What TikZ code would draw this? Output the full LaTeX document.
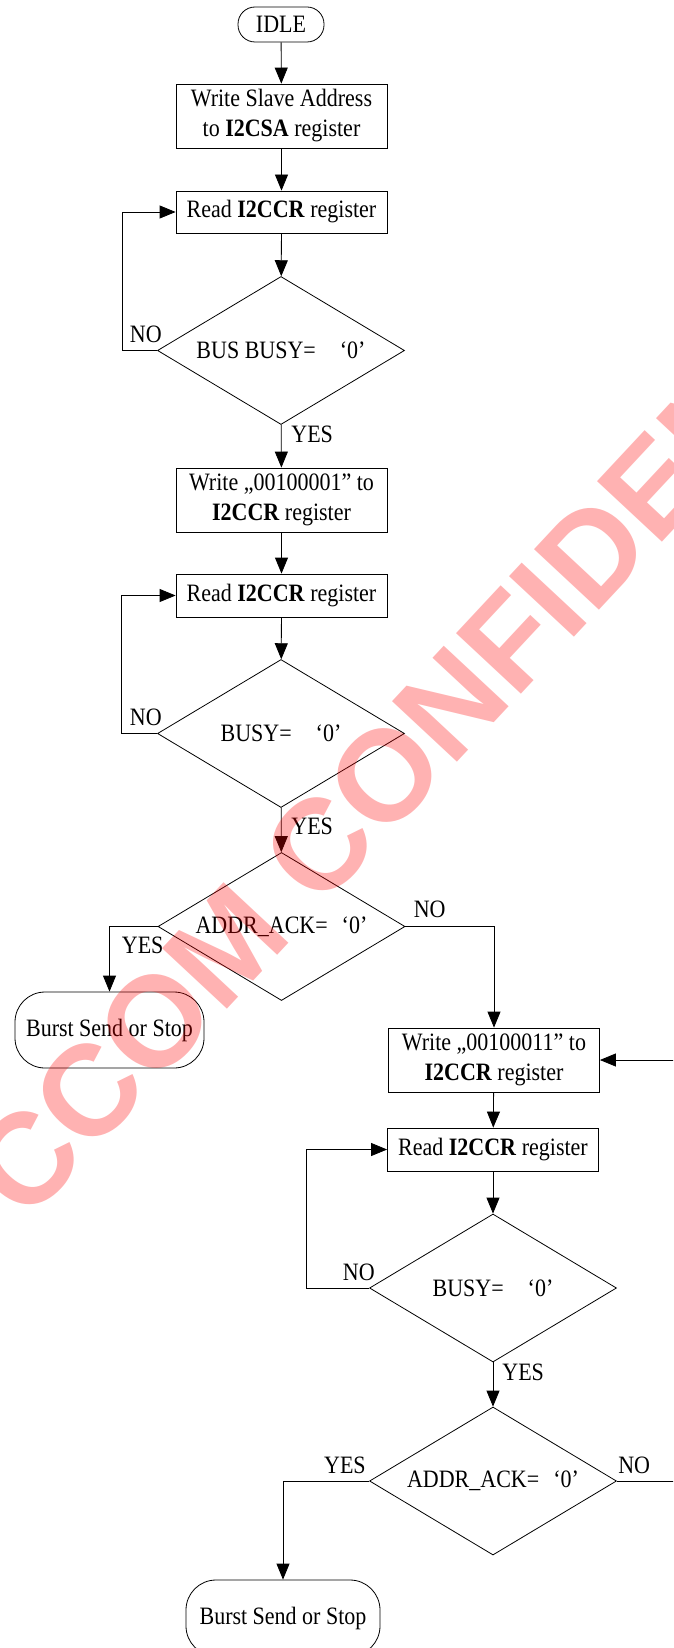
\documentclass[tikz,border=0pt]{standalone}
\usepackage{fontspec}
\setmainfont{Liberation Serif}[FakeStretch=0.88]
\newfontfamily\wmfont{Liberation Sans}
\usetikzlibrary{shapes.geometric,arrows.meta,calc}
\begin{document}
\begin{tikzpicture}[x=1pt,y=-1pt,
  font=\fontsize{25}{30}\selectfont,
  line width=0.8pt,
  every node/.style={inner sep=0pt},
  arr/.style={-{Triangle[length=16pt,width=13pt]}},
  procbox/.style={draw, minimum width=211pt, minimum height=#1, align=center},
  termbox/.style={draw, rounded corners=#1, align=center},
  dia/.style={draw, diamond, aspect=1.67, minimum width=247pt, minimum height=148pt},
  lbl/.style={}]
\useasboundingbox (0,0) rectangle (673,1648);
\clip (0,0) rectangle (673,1648);

% main column
\node[termbox=17pt, minimum width=86pt, minimum height=35pt] (idle) at (281,24.5) {IDLE};
\node[procbox=64pt] (b1) at (281.5,116) {Write Slave Address\\to \textbf{I2CSA} register};
\node[procbox=42pt] (b2) at (281.5,212) {Read \textbf{I2CCR} register};
\node[dia] (d1) at (281,350.5) {BUS BUSY=\hspace{24pt}‘0’\hspace{20pt}};
\node[procbox=64pt] (b3) at (281.5,500) {Write „00100001" to\\\textbf{I2CCR} register};
\node[procbox=43pt] (b4) at (281.5,595.5) {Read \textbf{I2CCR} register};
\node[dia] (d2) at (281,733.5) {BUSY=\hspace{24pt}‘0’\hspace{19pt}};
\node[dia] (d3) at (281.5,926.5) {ADDR\_ACK=\hspace{14pt}‘0’\hspace{19pt}};
\node[termbox=30pt, minimum width=189pt, minimum height=76pt] (t1) at (109.5,1030) {Burst Send or Stop};

% right column
\node[procbox=64pt] (b5) at (494,1060) {Write „00100011" to\\\textbf{I2CCR} register};
\node[procbox=43pt] (b6) at (493,1149.5) {Read \textbf{I2CCR} register};
\node[dia] (d5) at (493,1288) {BUSY=\hspace{24pt}‘0’\hspace{18pt}};
\node[dia] (d4) at (493,1481) {ADDR\_ACK=\hspace{14pt}‘0’\hspace{21pt}};
\node[termbox=30pt, minimum width=194pt, minimum height=76pt] (t2) at (283,1618) {Burst Send or Stop};

\coordinate (rc) at (690,1270);

% connectors
\draw[arr] (idle) -- (b1);
\draw[arr] (b1) -- (b2);
\draw[arr] (b2) -- (d1);
\draw[arr] (d1) -- (b3);
\draw[arr] (d1.west) -- ++(-35,0) |- (b2.west);
\draw[arr] (b3) -- (b4);
\draw[arr] (b4) -- (d2);
\draw[arr] (d2.west) -- ++(-36,0) |- (b4.west);
\draw[arr] (d2) -- (d3);
\draw[arr] (d3.west) -| (t1.north);
\draw[arr] (d3.east) -| (b5.north);
\draw[arr] (b5) -- (b6);
\draw[arr] (b6) -- (d5);
\draw[arr] (d5.west) -- ++(-63,0) |- (b6.west);
\draw[arr] (d5) -- (d4);
\draw[arr] (d4.west) -| (t2.north);
\draw[arr] (d4.east) -| (rc) |- (b5.east);

% labels
\node[lbl, anchor=base east] (n1) at ($(d1.west)+(5,-8)$) {NO};
\node[lbl, anchor=base west] (y1) at ($(d1.south)+(10,18)$) {YES};
\node[lbl, anchor=base east] (n2) at ($(d2.west)+(5,-8)$) {NO};
\node[lbl, anchor=base west] (y2) at ($(d2.south)+(10,27)$) {YES};
\node[lbl, anchor=base west] (y3) at ($(d3.west -| t1.north)+(12,27)$) {YES};
\node[lbl, anchor=base west] (n3) at ($(d3.east)+(8,-9)$) {NO};
\node[lbl, anchor=base east] (n5) at ($(d5.west)+(6,-8)$) {NO};
\node[lbl, anchor=base west] (y5) at ($(d5.south)+(9,18)$) {YES};
\node[lbl, anchor=base east] (y4) at ($(d4.west)+(-3,-8)$) {YES};
\node[lbl, anchor=base west] (n4) at ($(d4.east)+(1,-8)$) {NO};

% watermark
\node[rotate=47, text=red, text opacity=0.3, font=\wmfont\bfseries\fontsize{129}{129}\selectfont] (wm) at (468,686) {CCOM CONFIDENTIAL};
\end{tikzpicture}
\end{document}
